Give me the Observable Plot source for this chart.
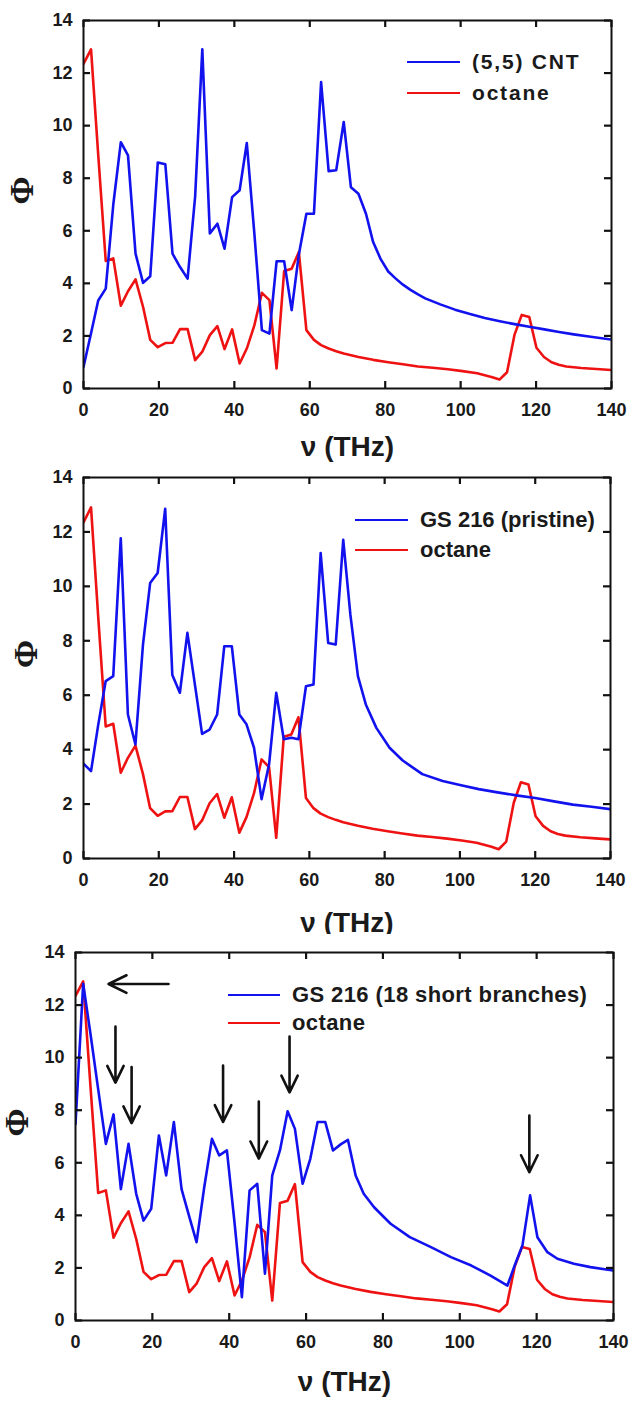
<!DOCTYPE html>
<html><head><meta charset="utf-8">
<script src="https://cdn.jsdelivr.net/npm/d3@7"></script>
<script src="https://cdn.jsdelivr.net/npm/@observablehq/plot@0.6"></script>
<style>
body{margin:0;background:#fff;}
#root{width:632px;}
.panel{position:relative;width:632px;height:467px;}
.panel svg{display:block;}
.legend-row{position:absolute;display:flex;align-items:center;height:30px;font-family:"Liberation Sans",Arial,sans-serif;font-weight:bold;color:#1a1a1a;white-space:nowrap;}
.sw{display:inline-block;height:2.6px;}
</style></head><body><div id="root"></div>
<script>
// axis ticks
const xTicks = [0, 20, 40, 60, 80, 100, 120, 140];
const yTicks = [0, 2, 4, 6, 8, 10, 12, 14];

// octane (same in all panels)
const octaneX = [0,2,3.9,5.9,7.9,9.9,11.8,13.8,15.8,17.7,19.7,21.7,23.6,25.6,27.6,29.6,31.5,33.5,35.5,37.4,39.4,41.4,43.3,45.3,47.3,49.3,51.2,53.2,55.2,57.1,59.1,61.1,63,65,67,69,72.9,76.8,80.8,84.7,88.7,92.6,96.6,100.5,104.4,108.4,110.3,112.3,114.3,116.2,118.2,120.1,122.1,124.1,126,128,132,136,140];
const octaneY = [12.35,12.9,8.9,4.85,4.95,3.15,3.7,4.15,3.1,1.85,1.57,1.73,1.74,2.26,2.26,1.08,1.4,2.03,2.37,1.5,2.25,0.95,1.52,2.4,3.64,3.36,0.76,4.47,4.56,5.19,2.22,1.85,1.65,1.52,1.42,1.33,1.2,1.09,1.0,0.92,0.84,0.79,0.73,0.66,0.58,0.43,0.34,0.62,2.05,2.8,2.72,1.55,1.2,1.0,0.9,0.84,0.78,0.74,0.7];

// (5,5) CNT
const cntX = [0,2,3.9,5.9,7.9,9.9,11.8,13.8,15.8,17.7,19.7,21.7,23.6,25.6,27.6,29.6,31.5,33.5,35.5,37.4,39.4,41.4,43.3,45.3,47.3,49.3,51.2,53.2,55.2,57.1,59.1,61.1,63,65,67,69,70.9,72.9,74.9,76.8,78.8,80.8,82.8,84.7,86.7,88.7,90.6,94.6,98.5,102.5,106.4,110.4,114.3,118.2,122.2,126.1,130,134,140];
const cntY = [0.82,2.1,3.35,3.8,7.0,9.37,8.87,5.13,4.02,4.27,8.6,8.53,5.13,4.62,4.18,7.3,12.9,5.9,6.27,5.32,7.28,7.54,9.34,5.9,2.22,2.09,4.84,4.84,2.98,5.1,6.65,6.65,11.66,8.27,8.3,10.14,7.66,7.41,6.65,5.57,4.92,4.45,4.18,3.95,3.75,3.58,3.43,3.2,3.0,2.83,2.68,2.56,2.45,2.35,2.25,2.15,2.06,1.98,1.86];

// GS 216 (pristine)
const pristineX = [0,2,3.9,5.9,7.9,9.9,11.8,13.8,15.8,17.7,19.7,21.7,23.6,25.6,27.6,31.5,33.5,35.5,37.4,39.4,41.4,43.3,45.3,47.3,49.3,51.2,53.2,55.2,57.1,59.1,61.1,63,65,67,69,70.9,72.9,75,77.8,81.3,84.8,90,95.4,100.6,105,110,115,120,125,130,135,140];
const pristineY = [3.48,3.21,4.9,6.52,6.7,11.77,5.29,4.19,7.86,10.12,10.49,12.85,6.74,6.09,8.29,4.58,4.74,5.29,7.8,7.8,5.29,4.93,4.07,2.18,3.46,6.09,4.38,4.44,4.38,6.33,6.39,11.22,7.92,7.86,11.71,8.96,6.7,5.66,4.8,4.07,3.6,3.1,2.85,2.68,2.55,2.43,2.32,2.22,2.1,1.98,1.9,1.81];

// GS 216 (18 short branches)
const branchX = [0,2,3.9,5.9,7.9,9.9,11.8,13.8,15.8,17.7,19.7,21.7,23.6,25.6,27.6,29.6,31.5,33.5,35.5,37.4,39.4,41.4,43.3,45.3,47.3,49.3,51.2,53.2,55.2,57.1,59.1,61.1,63,65,67,69,70.9,72.9,75,77.7,82,87,92.5,97.7,103,108,110.2,112.4,114.3,116.3,118.3,120.2,122.8,125.4,129.7,134,140];
const branchY = [7.48,12.81,10.9,8.8,6.72,7.84,5.0,6.72,4.82,3.8,4.25,7.04,5.52,7.55,5.0,3.95,2.98,5.07,6.91,6.28,6.47,3.7,0.89,4.95,5.2,1.78,5.52,6.47,7.96,7.29,5.2,6.15,7.55,7.55,6.47,6.7,6.87,5.52,4.82,4.31,3.68,3.17,2.79,2.41,2.09,1.71,1.52,1.33,2.1,2.85,4.76,3.17,2.6,2.35,2.16,2.03,1.9];

// annotation arrows in the third panel (data units)
const downArrowX = [10.4, 14.6, 38.4, 47.7, 55.7, 118.1];
const downArrowTop = [11.18, 9.64, 9.7, 8.33, 10.8, 7.8];
const downArrowTip = [9.05, 7.51, 7.55, 6.16, 8.68, 5.64];
const leftArrow = {x1: 24.2, x2: 8.6, y: 12.8};

const seriesLabels = ["(5,5) CNT", "GS 216 (pristine)", "GS 216 (18 short branches)", "octane"];
const BLUE = "#1212ee", RED = "#ee1212";

const zip = (xs, ys) => xs.map((x, i) => ({x, y: ys[i]}));
const octane = zip(octaneX, octaneY);

const W = 632, H = 467, TICK = 7;
const X_DOMAIN = [0, 140], Y_DOMAIN = [0, 14];
const panels = [
  {blue: zip(cntX, cntY), label: seriesLabels[0], mt: 20, mb: 79, ml: 83, mr: 21, xLabelDy: 59, phiDx: -61,
   legend: {rows: [62, 93], lineLeft: 407, textLeft: 472, fontSize: 21, spacing: 1.8}},
  {blue: zip(pristineX, pristineY), label: seriesLabels[1], mt: 10, mb: 76, ml: 83, mr: 22, xLabelDy: 65, phiDx: -57,
   legend: {rows: [53, 83], lineLeft: 355, textLeft: 420, fontSize: 22, spacing: 0}},
  {blue: zip(branchX, branchY), label: seriesLabels[2], mt: 18, mb: 81, ml: 75, mr: 19, xLabelDy: 62, phiDx: -58,
   legend: {rows: [61, 89], lineLeft: 228, textLeft: 292, fontSize: 22, spacing: 0.4}, arrows: true}
];

const root = document.getElementById("root");
const tickFont = {fontSize: 18, fontWeight: "bold", fontFamily: "Liberation Sans, Arial, sans-serif"};

for (const p of panels) {
  const pw = W - p.ml - p.mr, ph = H - p.mt - p.mb;
  const tk = {stroke: "#111", strokeWidth: 2.2};
  const marks = [
    Plot.axisX(xTicks, {anchor: "bottom", tickSize: 0, tickPadding: 15, label: null, ...tickFont}),
    Plot.axisY(yTicks, {anchor: "left", tickSize: 0, tickPadding: 11, label: null, ...tickFont}),
    Plot.line(octane, {x: "x", y: "y", stroke: RED, strokeWidth: 2.6, clip: true}),
    Plot.line(p.blue, {x: "x", y: "y", stroke: BLUE, strokeWidth: 2.6, clip: true}),
    Plot.frame({stroke: "#111", strokeWidth: 2}),
    // inward ticks on all four sides (drawn after the frame)
    Plot.tickX(xTicks, {x: d => d, insetTop: ph - TICK, ...tk}),
    Plot.tickX(xTicks, {x: d => d, insetBottom: ph - TICK, ...tk}),
    Plot.tickY(yTicks, {y: d => d, insetRight: pw - TICK, ...tk}),
    Plot.tickY(yTicks, {y: d => d, insetLeft: pw - TICK, ...tk}),
    Plot.text(["ν (THz)"], {text: d => d, frameAnchor: "bottom", dy: p.xLabelDy, lineAnchor: "middle", fontSize: 28, fontWeight: "bold", fontFamily: "Liberation Sans, Arial, sans-serif", fill: "#1a1a1a"}),
    Plot.text(["Φ"], {text: d => d, frameAnchor: "left", dx: p.phiDx, rotate: -90, lineAnchor: "middle", fontSize: 34, fontWeight: "bold", fontFamily: "Liberation Serif, serif", fill: "#1a1a1a"})
  ];
  if (p.arrows) {
    marks.push(Plot.arrow(downArrowX.map((x, i) => ({x, y1: downArrowTop[i], y2: downArrowTip[i]})),
      {x: "x", y1: "y1", y2: "y2", stroke: "#111", strokeWidth: 2.6, headLength: 19, headAngle: 52}));
    marks.push(Plot.arrow([leftArrow], {x1: "x1", x2: "x2", y: "y", stroke: "#111", strokeWidth: 2.6, headLength: 19, headAngle: 52}));
  }
  const chart = Plot.plot({
    width: W, height: H,
    marginTop: p.mt, marginBottom: p.mb, marginLeft: p.ml, marginRight: p.mr,
    x: {domain: X_DOMAIN},
    y: {domain: Y_DOMAIN},
    style: {background: "#fff", color: "#1a1a1a", overflow: "visible"},
    marks
  });
  const div = document.createElement("div");
  div.className = "panel";
  div.appendChild(chart);
  const lg = p.legend;
  [[BLUE, p.label], [RED, seriesLabels[3]]].forEach(([c, t], i) => {
    const row = document.createElement("div");
    row.className = "legend-row";
    row.style.left = lg.lineLeft + "px";
    row.style.top = (lg.rows[i] - 15) + "px";
    row.style.fontSize = lg.fontSize + "px";
    row.style.letterSpacing = lg.spacing + "px";
    const sw = document.createElement("span");
    sw.className = "sw";
    sw.style.width = (lg.textLeft - lg.lineLeft - 12) + "px";
    sw.style.marginRight = "12px";
    sw.style.background = c;
    const txt = document.createElement("span");
    txt.textContent = t;
    row.appendChild(sw); row.appendChild(txt);
    div.appendChild(row);
  });
  root.appendChild(div);
}
</script></body></html>
